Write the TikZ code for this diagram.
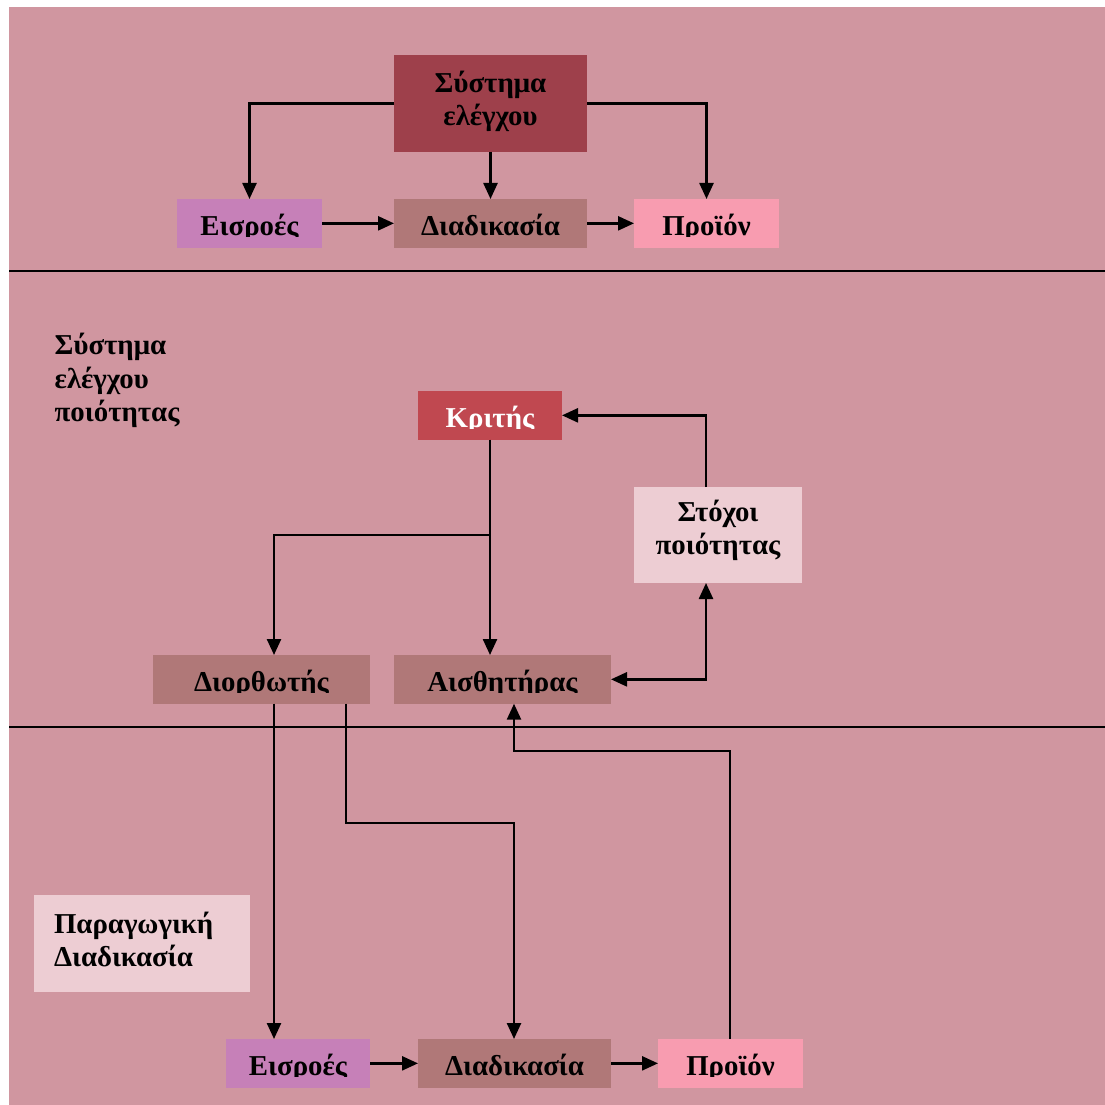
\documentclass[tikz,border=0pt]{standalone}
\usepackage{fontspec}
\setmainfont{Liberation Serif}
\usetikzlibrary{arrows.meta,calc}

\definecolor{bgpink}{RGB}{208,150,160}
\definecolor{ctrlred}{RGB}{158,64,75}
\definecolor{inpurple}{RGB}{198,128,184}
\definecolor{procbrown}{RGB}{176,120,120}
\definecolor{prodpink}{RGB}{248,156,176}
\definecolor{judgered}{RGB}{192,72,80}
\definecolor{palepink}{RGB}{237,205,211}

\begin{document}
\begin{tikzpicture}[x=0.1mm,y=-0.1mm,
  lbl/.style={font=\fontsize{8.2}{9.4}\selectfont\bfseries},
  box/.style={rectangle, inner sep=0pt, outer sep=0pt, draw=none, lbl},
  oneline/.style={box, minimum height=4.87mm, text height=2.4mm, text depth=0pt},
  conn/.style={line width=0.7pt, -{Triangle[length=1.6mm,width=1.4mm]}},
  biconn/.style={line width=0.7pt, {Triangle[length=1.6mm,width=1.4mm]}-{Triangle[length=1.6mm,width=1.4mm]}},
  sepline/.style={line width=0.65pt}
]
\useasboundingbox (0,0) rectangle (1105,1105);
\fill[bgpink] (9,7) rectangle (1105,1105);

% section separators
\coordinate (sepA1) at (9,271);  \coordinate (sepA2) at (1105,271);
\coordinate (sepB1) at (9,727);  \coordinate (sepB2) at (1105,727);
\draw[sepline] (sepA1) -- (sepA2);
\draw[sepline] (sepB1) -- (sepB2);

% ---- control system ----
\node[box, fill=ctrlred, minimum width=19.3mm, minimum height=9.7mm,
      text width=19.3mm, align=center, text height=0pt, text depth=2.2mm]
      (ctrl) at (490.5,103.5) {Σύστημα\\ελέγχου};
\node[oneline, fill=inpurple, minimum width=14.5mm] (in1) at (249.5,223.35) {Εισροές};
\node[oneline, fill=procbrown, minimum width=19.3mm] (proc1) at (490.5,223.35) {Διαδικασία};
\node[oneline, fill=prodpink, minimum width=14.5mm] (out1) at (706.5,223.35) {Προϊόν};

% ---- quality control system ----
\node[lbl, anchor=base west, inner sep=0pt, text width=40mm, align=left] (qcs) at (54,355)
     {Σύστημα\\ελέγχου\\ποιότητας};
\node[oneline, fill=judgered, text=white, minimum width=14.4mm] (judge) at (490,415.35) {Κριτής};
\node[box, fill=palepink, minimum width=16.8mm, minimum height=9.6mm,
      text width=16.8mm, align=center, text height=0pt, text depth=2.66mm]
      (goals) at (718,535) {Στόχοι\\ποιότητας};
\node[oneline, fill=procbrown, minimum width=21.7mm] (corr) at (261.5,679.35) {Διορθωτής};
\node[oneline, fill=procbrown, minimum width=21.7mm] (sensor) at (502.5,679.35) {Αισθητήρας};

% ---- production process ----
\node[box, fill=palepink, minimum width=21.6mm, minimum height=9.67mm,
      text width=17.6mm, align=left, text height=0pt, text depth=2mm]
      (prodproc) at (142,943.35) {Παραγωγική\\Διαδικασία};
\node[oneline, fill=inpurple, minimum width=14.4mm] (in2) at (298,1063.35) {Εισροές};
\node[oneline, fill=procbrown, minimum width=19.3mm] (proc2) at (514.5,1063.35) {Διαδικασία};
\node[oneline, fill=prodpink, minimum width=14.5mm] (out2) at (730.5,1063.35) {Προϊόν};

% text frames cut the single-line labels just under the baseline
\foreach \n/\c in {in1/inpurple, proc1/procbrown, out1/prodpink, judge/judgered,
                   corr/procbrown, sensor/procbrown, in2/inpurple, proc2/procbrown, out2/prodpink}
  \fill[\c] ($(\n.west)+(0,14)$) rectangle (\n.south east);

% routing guides
\coordinate (y535) at (0,535);
\coordinate (y823) at (0,823);
\coordinate (y751) at (0,751);
\coordinate (x274) at (274,0);
\coordinate (x346) at (346,0);
\coordinate (x514) at (514,0);
\coordinate (x706) at (706,0);
\coordinate (x730) at (730,0);
\coordinate (split) at (judge.south |- y535);

% top connectors
\draw[conn] (ctrl.west) -| (in1.north);
\draw[conn] (ctrl.east) -| (out1.north);
\draw[conn] (ctrl.south) -- (proc1.north);
\draw[conn] (in1.east) -- (proc1.west);
\draw[conn] (proc1.east) -- (out1.west);

% middle connectors
\draw[conn] (judge.south) -- (judge.south |- sensor.north);
\draw[conn] (split) -| (corr.north -| x274);
\draw[conn] (goals.north -| x706) |- (judge.east);
\draw[biconn] (sensor.east) -| (goals.south -| x706);

% bottom connectors
\draw[conn] (corr.south -| x274) -- (in2.north -| x274);
\draw[conn] (corr.south -| x346) -- (x346 |- y823) -| (proc2.north -| x514);
\draw[conn] (out2.north -| x730) -- (x730 |- y751) -| (sensor.south -| x514);
\draw[conn] (in2.east) -- (proc2.west);
\draw[conn] (proc2.east) -- (out2.west);
\end{tikzpicture}
\end{document}
